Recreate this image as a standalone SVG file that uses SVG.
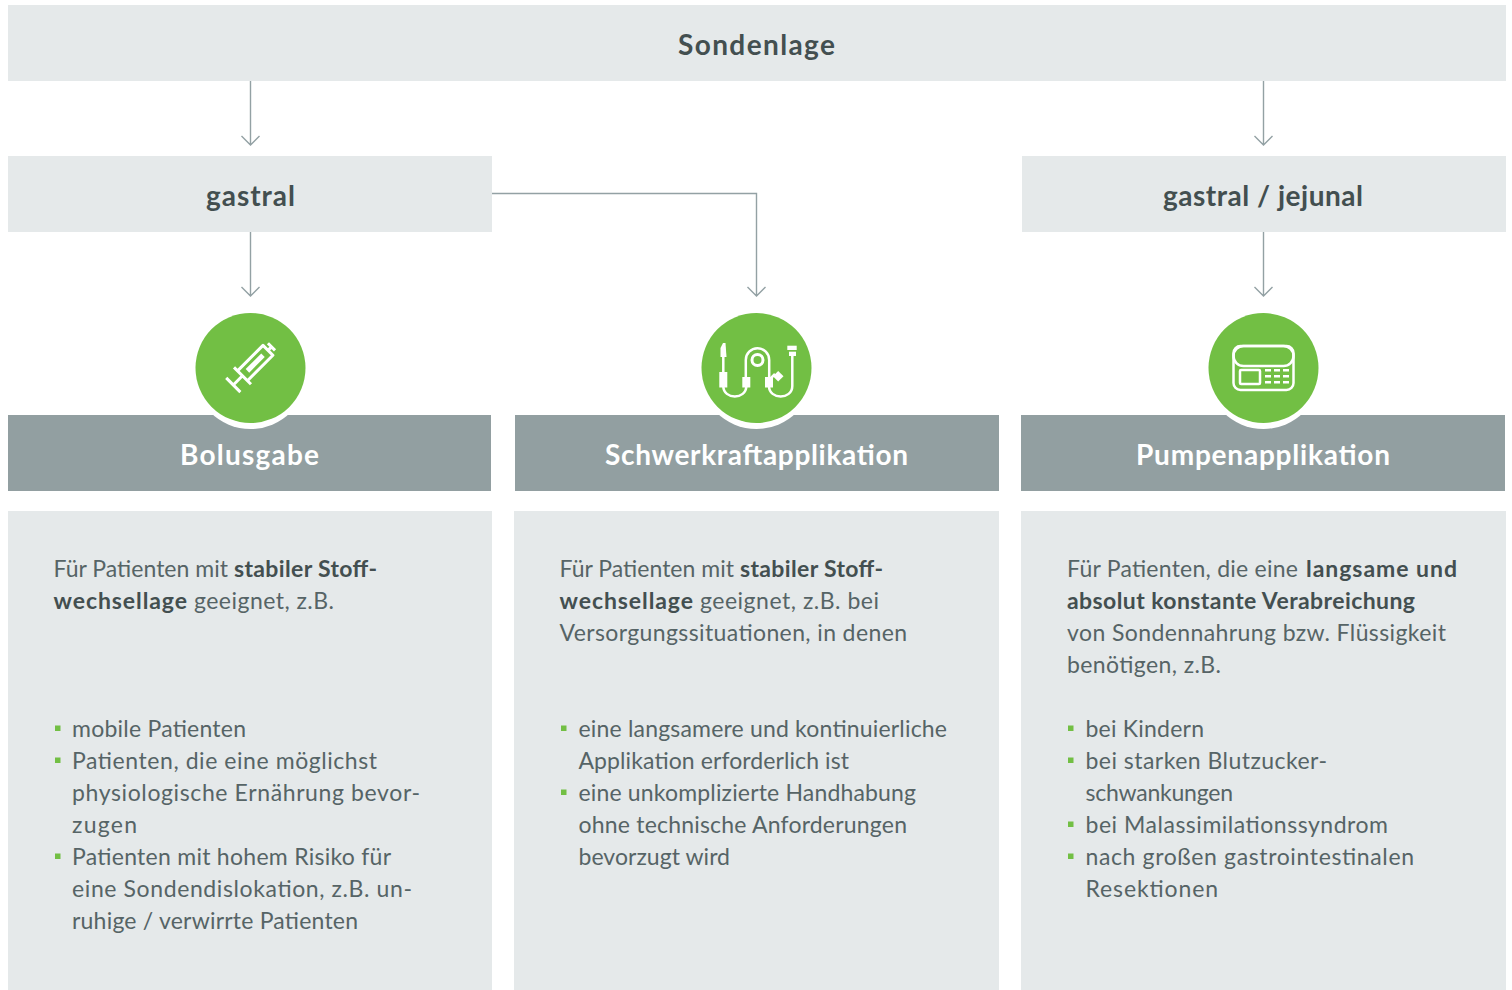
<svg xmlns="http://www.w3.org/2000/svg" width="1512" height="990" viewBox="0 0 1512 990">
<style>
.box{fill:#e5e9ea}
.band{fill:#929fa1}
.h{font:700 28px Lato,"Open Sans",sans-serif;fill:#434f50}
.t{font:700 28px Lato,"Open Sans",sans-serif;fill:#fff}
.b{font:400 23px Lato,"Open Sans",sans-serif;fill:#566466}
.s{font:700 23px Lato,"Open Sans",sans-serif;fill:#434f50}
.c{fill:none;stroke:#93a1a4;stroke-width:1.4}
.i{fill:none;stroke:#fff;stroke-width:2.5;stroke-linecap:butt;stroke-linejoin:round}
.i3{stroke-width:3}
.f{fill:#fff}
.g{fill:#72bf44}
.r{fill:#fff}
.sq{fill:#72bf44}
</style>
<g id="connectors">
<path class="c" d="M250.500 81V145M241.500 136L250.500 145L259.500 136"/>
<path class="c" d="M1263.500 81V145M1254.500 136L1263.500 145L1272.500 136"/>
<path class="c" d="M250.500 232V296M241.500 287L250.500 296L259.500 287"/>
<path class="c" d="M1263.500 232V296M1254.500 287L1263.500 296L1272.500 287"/>
<path class="c" d="M492 193.500H756.500V296M747.500 287L756.500 296L765.500 287"/>
</g>
<g id="sondenlage"><rect class="box" x="8" y="5" width="1498" height="76"/><text class="h" x="678" y="55" textLength="157">Sondenlage</text></g>
<g id="gastral"><rect class="box" x="8" y="156" width="484" height="76"/><text class="h" x="206" y="206" textLength="89">gastral</text></g>
<g id="gastral-jejunal"><rect class="box" x="1022" y="156" width="484" height="76"/><text class="h" x="1163" y="206" textLength="200">gastral / jejunal</text></g>

<g id="bolusgabe">
<rect class="band" x="8" y="415" width="483" height="76"/>
<circle class="r" cx="250.500" cy="372" r="57"/>
<circle class="g" cx="250.500" cy="368" r="55"/>
<g transform="translate(233.300 385) rotate(-45)">
<path class="i i3" d="M0 -10V10M0 0H13M13 -12V12M13 -7H49V7H13M49 0H54M54 -5V5"/>
<rect class="f" x="20" y="-2.500" width="22" height="5"/>
</g>
<text class="t" x="180" y="465" textLength="139">Bolusgabe</text>
</g>

<g id="schwerkraft">
<rect class="band" x="515" y="415" width="484" height="76"/>
<circle class="r" cx="756.500" cy="372" r="57"/>
<circle class="g" cx="756.500" cy="368" r="55"/>
<g class="i">
<circle class="i3" cx="757.500" cy="360" r="5.500"/>
<path d="M745.800 378V360A11.700 11.700 0 0 1 769.200 360V378"/>
<path d="M723.300 386C723.300 400 746.300 400 746.300 386M769 386C769 400 792.300 400 792.300 386V355"/>
<path d="M723.300 373V356M770 379L775 374"/>
</g>
<g class="f">
<path d="M723 343L725.500 343L726.500 357H720.500V348Z"/><rect x="719.300" y="372" width="8" height="15.500"/><rect x="742.300" y="377" width="8" height="10.500"/><rect x="765" y="377" width="8" height="10.500"/>
<rect x="787.300" y="345.700" width="9.400" height="4.300"/><rect x="789" y="351.700" width="7" height="4.300"/><rect x="774.500" y="372.500" width="7.500" height="7.500" transform="rotate(45 778.200 376.200)"/>
</g>
<text class="t" x="605" y="465" textLength="303">Schwerkraftapplikation</text>
</g>

<g id="pumpe">
<rect class="band" x="1021" y="415" width="484" height="76"/>
<circle class="r" cx="1263.500" cy="372" r="57"/>
<circle class="g" cx="1263.500" cy="368" r="55"/>
<g class="i">
<rect x="1233.500" y="346" width="60" height="44" rx="7"/>
<path d="M1243.500 346H1283.500A10 10 0 0 1 1283.500 366H1243.500A10 10 0 0 1 1243.500 346Z"/>
<rect x="1240" y="370" width="20" height="14" rx="1"/>
</g>
<g class="f">
<rect x="1265" y="369" width="6" height="2.500"/><rect x="1274" y="369" width="6" height="2.500"/><rect x="1283" y="369" width="6" height="2.500"/>
<rect x="1265" y="375" width="6" height="2.500"/><rect x="1274" y="375" width="6" height="2.500"/><rect x="1283" y="375" width="6" height="2.500"/>
<rect x="1265" y="381" width="6" height="2.500"/><rect x="1274" y="381" width="6" height="2.500"/><rect x="1283" y="381" width="6" height="2.500"/>
</g>
<text class="t" x="1136" y="465" textLength="254">Pumpenapplikation</text>
</g>

<g id="text-bolus">
<rect class="box" x="8" y="511" width="484" height="479"/>
<text class="b" x="53.500" y="577" textLength="174.500">Für Patienten mit</text>
<text class="s" x="234" y="577" textLength="143">stabiler Stoff-</text>
<text class="s" x="53.500" y="609" textLength="133.500">wechsellage</text>
<text class="b" x="194" y="609" textLength="140">geeignet, z.B.</text>
<rect class="sq" x="55" y="725.500" width="5.500" height="5.500"/>
<text class="b" x="72" y="737" textLength="174">mobile Patienten</text>
<rect class="sq" x="55" y="757.500" width="5.500" height="5.500"/>
<text class="b" x="72" y="769" textLength="305">Patienten, die eine möglichst</text>
<text class="b" x="72" y="801" textLength="348">physiologische Ernährung bevor-</text>
<text class="b" x="72" y="833" textLength="65">zugen</text>
<rect class="sq" x="55" y="853.500" width="5.500" height="5.500"/>
<text class="b" x="72" y="865" textLength="319">Patienten mit hohem Risiko für</text>
<text class="b" x="72" y="897" textLength="340">eine Sondendislokation, z.B. un-</text>
<text class="b" x="72" y="929" textLength="286">ruhige / verwirrte Patienten</text>
</g>
<g id="text-schwerkraft">
<rect class="box" x="514" y="511" width="485" height="479"/>
<text class="b" x="559.500" y="577" textLength="174.500">Für Patienten mit</text>
<text class="s" x="740" y="577" textLength="143">stabiler Stoff-</text>
<text class="s" x="559.500" y="609" textLength="133.500">wechsellage</text>
<text class="b" x="700" y="609" textLength="179">geeignet, z.B. bei</text>
<text class="b" x="559.500" y="641" textLength="347.500">Versorgungssituationen, in denen</text>
<rect class="sq" x="561" y="725.500" width="5.500" height="5.500"/>
<text class="b" x="578.500" y="737" textLength="368.500">eine langsamere und kontinuierliche</text>
<text class="b" x="578.500" y="769" textLength="270.500">Applikation erforderlich ist</text>
<rect class="sq" x="561" y="789.500" width="5.500" height="5.500"/>
<text class="b" x="578.500" y="801" textLength="337.500">eine unkomplizierte Handhabung</text>
<text class="b" x="578.500" y="833" textLength="328.500">ohne technische Anforderungen</text>
<text class="b" x="578.500" y="865" textLength="151.500">bevorzugt wird</text>
</g>
<g id="text-pumpe">
<rect class="box" x="1021" y="511" width="485" height="479"/>
<text class="b" x="1067" y="577" textLength="231">Für Patienten, die eine</text>
<text class="s" x="1306" y="577" textLength="151">langsame und</text>
<text class="s" x="1067" y="609" textLength="348">absolut konstante Verabreichung</text>
<text class="b" x="1067" y="641" textLength="379">von Sondennahrung bzw. Flüssigkeit</text>
<text class="b" x="1067" y="673" textLength="154">benötigen, z.B.</text>
<rect class="sq" x="1068" y="725.500" width="5.500" height="5.500"/>
<text class="b" x="1085.500" y="737" textLength="118.500">bei Kindern</text>
<rect class="sq" x="1068" y="757.500" width="5.500" height="5.500"/>
<text class="b" x="1085.500" y="769" textLength="241.500">bei starken Blutzucker-</text>
<text class="b" x="1085.500" y="801" textLength="147.500">schwankungen</text>
<rect class="sq" x="1068" y="821.500" width="5.500" height="5.500"/>
<text class="b" x="1085.500" y="833" textLength="302.500">bei Malassimilationssyndrom</text>
<rect class="sq" x="1068" y="853.500" width="5.500" height="5.500"/>
<text class="b" x="1085.500" y="865" textLength="328.500">nach großen gastrointestinalen</text>
<text class="b" x="1085.500" y="897" textLength="132.500">Resektionen</text>
</g>
</svg>
